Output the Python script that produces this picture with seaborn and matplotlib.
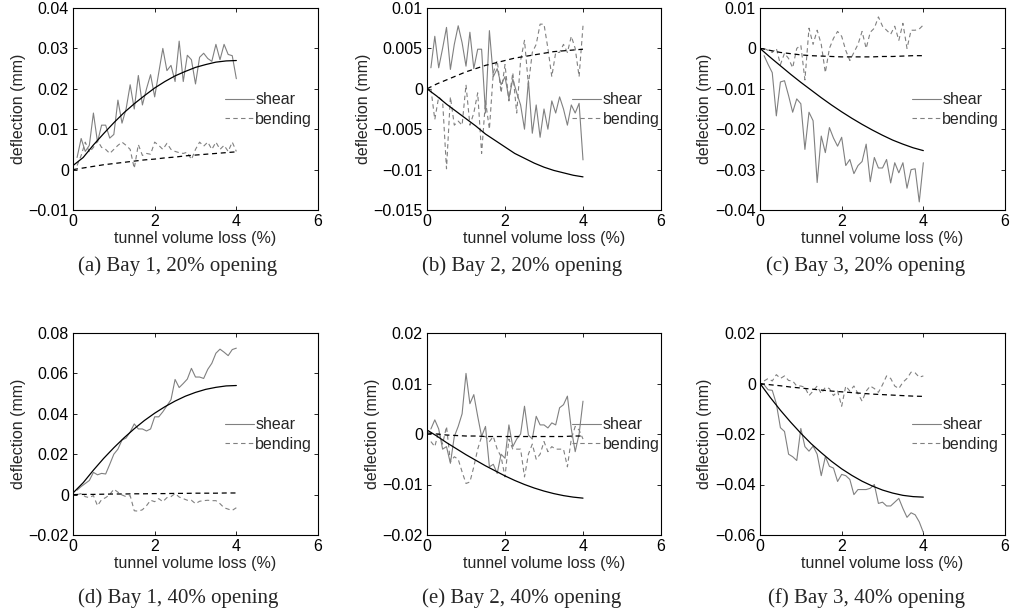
import matplotlib
matplotlib.use("Agg")
import matplotlib.pyplot as plt
import pandas as pd
import seaborn as sns
from matplotlib.ticker import FuncFormatter, MultipleLocator

# measured points: tunnel volume loss (%)
loss = [0.1, 0.2, 0.3, 0.4, 0.5, 0.6, 0.7, 0.8, 0.9, 1.0,
        1.1, 1.2, 1.3, 1.4, 1.5, 1.6, 1.7, 1.8, 1.9, 2.0,
        2.1, 2.2, 2.3, 2.4, 2.5, 2.6, 2.7, 2.8, 2.9, 3.0,
        3.1, 3.2, 3.3, 3.4, 3.5, 3.6, 3.7, 3.8, 3.9, 4.0]
# fitted curves are read at these positions
fit_loss = [0.0, 0.25, 0.5, 0.75, 1.0, 1.25, 1.5, 1.75, 2.0,
            2.25, 2.5, 2.75, 3.0, 3.25, 3.5, 3.75, 4.0]

# (a) Bay 1, 20% opening
shear_a = [0.0030, 0.0077, 0.0045, 0.0060, 0.0140, 0.0068, 0.0110, 0.0110, 0.0078, 0.0087,
           0.0172, 0.0115, 0.0150, 0.0210, 0.0150, 0.0233, 0.0160, 0.0200, 0.0235, 0.0180,
           0.0240, 0.0300, 0.0245, 0.0258, 0.0218, 0.0318, 0.0218, 0.0283, 0.0272, 0.0212,
           0.0278, 0.0288, 0.0275, 0.0268, 0.0310, 0.0272, 0.0310, 0.0285, 0.0282, 0.0225]
bend_a = [0.0010, 0.0035, 0.0068, 0.0043, 0.0055, 0.0072, 0.0055, 0.0050, 0.0040, 0.0050,
          0.0060, 0.0068, 0.0060, 0.0050, 0.0003, 0.0062, 0.0035, 0.0040, 0.0038, 0.0068,
          0.0060, 0.0050, 0.0065, 0.0050, 0.0045, 0.0042, 0.0040, 0.0043, 0.0025, 0.0050,
          0.0068, 0.0058, 0.0068, 0.0050, 0.0068, 0.0050, 0.0060, 0.0045, 0.0068, 0.0045]
shear_fit_a = [0.0010, 0.0030, 0.0061, 0.0089, 0.0116, 0.0141, 0.0163, 0.0183, 0.0202,
               0.0218, 0.0232, 0.0243, 0.0253, 0.0260, 0.0266, 0.0269, 0.0270]
bend_fit_a = [0.0, 0.0004, 0.0008, 0.0012, 0.0015, 0.0018, 0.0021, 0.0024, 0.0026,
              0.0029, 0.0031, 0.0034, 0.0036, 0.0038, 0.0040, 0.0042, 0.0044]

# (b) Bay 2, 20% opening
shear_b = [0.0026, 0.0065, 0.0026, 0.0050, 0.0076, 0.0024, 0.0055, 0.0078, 0.0057, 0.0028,
           0.0070, 0.0025, 0.0049, 0.0049, -0.0030, 0.0072, 0.0015, 0.0025, 0.0005, 0.0015,
           -0.0012, 0.0012, -0.0005, -0.0020, -0.0050, 0.0010, -0.0055, -0.0020, -0.0060, -0.0025,
           -0.0050, -0.0015, -0.0030, -0.0010, -0.0025, -0.0045, -0.0020, -0.0030, -0.0018, -0.0088]
bend_b = [0.0000, -0.0038, -0.0010, -0.0015, -0.0099, -0.0010, -0.0045, -0.0040, -0.0045, 0.0005,
          -0.0045, -0.0030, -0.0005, -0.0080, -0.0015, -0.0050, 0.0020, 0.0035, -0.0005, 0.0030,
          -0.0015, 0.0020, -0.0030, 0.0035, 0.0060, 0.0005, 0.0045, 0.0055, 0.0080, 0.0080,
          0.0050, 0.0015, 0.0045, 0.0045, 0.0055, 0.0045, 0.0065, 0.0050, 0.0015, 0.0078]
shear_fit_b = [0.0, -0.0009, -0.0019, -0.0028, -0.0037, -0.0046, -0.0056, -0.0064, -0.0072,
               -0.0080, -0.0086, -0.0092, -0.0097, -0.0101, -0.0104, -0.0107, -0.0109]
bend_fit_b = [0.0, 0.0006, 0.0011, 0.0016, 0.0021, 0.0025, 0.0029, 0.0032, 0.0035,
              0.0038, 0.0040, 0.0042, 0.0044, 0.0046, 0.0047, 0.0048, 0.0049]

# (c) Bay 3, 20% opening
shear_c = [-0.0018, -0.0040, -0.0060, -0.0167, -0.0083, -0.0080, -0.0117, -0.0158, -0.0125, -0.0137,
           -0.0250, -0.0158, -0.0179, -0.0332, -0.0217, -0.0258, -0.0196, -0.0222, -0.0242, -0.0220,
           -0.0290, -0.0275, -0.0310, -0.0290, -0.0280, -0.0237, -0.0330, -0.0270, -0.0296, -0.0296,
           -0.0275, -0.0333, -0.0283, -0.0308, -0.0283, -0.0346, -0.0300, -0.0298, -0.0380, -0.0283]
bend_c = [0.0000, -0.0005, -0.0010, 0.0000, -0.0040, -0.0012, -0.0025, -0.0048, 0.0000, 0.0008,
          -0.0078, 0.0050, 0.0010, 0.0045, 0.0010, -0.0060, 0.0000, 0.0025, 0.0042, 0.0030,
          -0.0005, -0.0030, -0.0010, 0.0010, 0.0042, 0.0000, 0.0040, 0.0050, 0.0078, 0.0055,
          0.0045, 0.0035, 0.0055, 0.0020, 0.0062, 0.0000, 0.0045, 0.0045, 0.0048, 0.0058]
shear_fit_c = [0.0, -0.0022, -0.0043, -0.0064, -0.0084, -0.0103, -0.0122, -0.0140, -0.0157,
               -0.0173, -0.0188, -0.0202, -0.0215, -0.0227, -0.0237, -0.0246, -0.0253]
bend_fit_c = [0.0, -0.0005, -0.0010, -0.0013, -0.0016, -0.0018, -0.0019, -0.0020, -0.0021,
              -0.0021, -0.0021, -0.0021, -0.0020, -0.0020, -0.0019, -0.0018, -0.0018]

# (d) Bay 1, 40% opening
shear_d = [0.0022, 0.0040, 0.0055, 0.0070, 0.0110, 0.0098, 0.0105, 0.0102, 0.0150, 0.0200,
           0.0225, 0.0270, 0.0280, 0.0310, 0.0350, 0.0325, 0.0325, 0.0315, 0.0325, 0.0385,
           0.0385, 0.0410, 0.0440, 0.0470, 0.0570, 0.0530, 0.0550, 0.0572, 0.0625, 0.0582,
           0.0582, 0.0575, 0.0620, 0.0650, 0.0700, 0.0720, 0.0705, 0.0688, 0.0718, 0.0725]
bend_d = [0.0000, 0.0005, -0.0010, -0.0015, -0.0005, -0.0055, -0.0025, -0.0015, 0.0000, 0.0027,
          0.0012, -0.0002, -0.0010, -0.0005, -0.0080, -0.0082, -0.0075, -0.0055, -0.0028, -0.0035,
          -0.0020, -0.0035, -0.0015, -0.0010, 0.0005, -0.0012, -0.0020, -0.0028, -0.0028, -0.0045,
          -0.0033, -0.0030, -0.0028, -0.0030, -0.0030, -0.0045, -0.0065, -0.0072, -0.0078, -0.0065]
shear_fit_d = [0.0008, 0.0059, 0.0121, 0.0179, 0.0232, 0.0281, 0.0326, 0.0367, 0.0403,
               0.0435, 0.0463, 0.0487, 0.0506, 0.0521, 0.0531, 0.0538, 0.0540]
bend_fit_d = [0.0, 0.0001, 0.0001, 0.0002, 0.0003, 0.0003, 0.0004, 0.0004, 0.0005,
              0.0005, 0.0006, 0.0006, 0.0007, 0.0007, 0.0007, 0.0008, 0.0008]

# (e) Bay 2, 40% opening
shear_e = [0.0010, 0.0028, 0.0010, -0.0030, -0.0025, -0.0058, -0.0005, 0.0015, 0.0040, 0.0120,
           0.0060, 0.0078, 0.0035, -0.0005, 0.0015, -0.0065, -0.0060, -0.0078, -0.0040, -0.0048,
           0.0018, -0.0025, -0.0010, 0.0000, 0.0055, -0.0002, -0.0010, 0.0035, 0.0018, 0.0018,
           0.0012, 0.0022, 0.0018, 0.0052, 0.0058, 0.0075, 0.0010, -0.0035, 0.0000, 0.0065]
bend_e = [-0.0015, -0.0025, 0.0005, -0.0020, 0.0015, -0.0055, -0.0045, -0.0050, -0.0075, -0.0098,
          -0.0095, -0.0065, -0.0030, -0.0005, -0.0005, -0.0015, -0.0005, -0.0030, -0.0045, -0.0085,
          -0.0010, -0.0030, -0.0030, -0.0030, -0.0085, -0.0040, -0.0020, -0.0050, -0.0040, -0.0015,
          -0.0035, -0.0025, -0.0030, -0.0030, -0.0030, -0.0065, -0.0010, 0.0015, 0.0008, -0.0010]
shear_fit_e = [0.0008, -0.0004, -0.0017, -0.0029, -0.0041, -0.0052, -0.0063, -0.0073, -0.0083,
               -0.0092, -0.0100, -0.0107, -0.0113, -0.0118, -0.0122, -0.0125, -0.0127]
bend_fit_e = [0.0002, 0.0000, -0.0002, -0.0003, -0.0004, -0.0004, -0.0005, -0.0005, -0.0005,
              -0.0005, -0.0005, -0.0005, -0.0005, -0.0005, -0.0005, -0.0004, -0.0004]

# (f) Bay 3, 40% opening
shear_f = [-0.0005, -0.0025, -0.0027, -0.0080, -0.0175, -0.0190, -0.0280, -0.0290, -0.0305, -0.0178,
           -0.0250, -0.0268, -0.0248, -0.0280, -0.0365, -0.0290, -0.0328, -0.0335, -0.0388, -0.0360,
           -0.0365, -0.0380, -0.0440, -0.0420, -0.0420, -0.0420, -0.0415, -0.0400, -0.0475, -0.0470,
           -0.0485, -0.0485, -0.0470, -0.0455, -0.0495, -0.0530, -0.0512, -0.0520, -0.0548, -0.0590]
bend_f = [0.0010, 0.0020, 0.0010, 0.0035, 0.0020, 0.0030, 0.0012, 0.0010, -0.0010, -0.0010,
          -0.0015, -0.0048, -0.0030, -0.0010, -0.0040, -0.0015, -0.0020, -0.0048, -0.0030, -0.0090,
          -0.0010, -0.0030, -0.0010, -0.0040, -0.0070, -0.0030, -0.0010, -0.0020, -0.0035, -0.0005,
          0.0030, 0.0020, -0.0010, -0.0020, 0.0005, 0.0020, 0.0045, 0.0042, 0.0025, 0.0030]
shear_fit_f = [0.0, -0.0055, -0.0106, -0.0153, -0.0197, -0.0238, -0.0274, -0.0308, -0.0338,
               -0.0364, -0.0387, -0.0406, -0.0422, -0.0434, -0.0443, -0.0448, -0.0450]
bend_fit_f = [0.0, -0.0005, -0.0009, -0.0014, -0.0018, -0.0022, -0.0026, -0.0030, -0.0033,
              -0.0036, -0.0039, -0.0042, -0.0044, -0.0046, -0.0048, -0.0050, -0.0051]

captions = ["(a) Bay 1, 20% opening", "(b) Bay 2, 20% opening", "(c) Bay 3, 20% opening",
            "(d) Bay 1, 40% opening", "(e) Bay 2, 40% opening", "(f) Bay 3, 40% opening"]
y_limits = [(-0.01, 0.04), (-0.015, 0.01), (-0.04, 0.01),
            (-0.02, 0.08), (-0.02, 0.02), (-0.06, 0.02)]
y_steps = [0.01, 0.005, 0.01, 0.02, 0.01, 0.02]

panels = [
    (shear_a, bend_a, shear_fit_a, bend_fit_a),
    (shear_b, bend_b, shear_fit_b, bend_fit_b),
    (shear_c, bend_c, shear_fit_c, bend_fit_c),
    (shear_d, bend_d, shear_fit_d, bend_fit_d),
    (shear_e, bend_e, shear_fit_e, bend_fit_e),
    (shear_f, bend_f, shear_fit_f, bend_fit_f),
]

# ---- style ----
sns.set_style("ticks")
plt.rcParams["font.family"] = ["Liberation Sans", "DejaVu Sans"]
plt.rcParams["font.size"] = 11.5
plt.rcParams["axes.unicode_minus"] = True

GREY = "#808080"
DASH = (0, (4, 3))
FS = 11.5

# axes boxes in pixels: left, width (figure is 1011 x 611)
W, H = 1011, 611
col_px = [(73, 245), (427, 234), (760, 245)]
row_top = [8, 333]
ax_h = 202
caption_x = [178, 522, 866]
caption_y = [266, 598]


def fmt(v, _pos):
    s = "{:g}".format(round(v, 4))
    return s.replace("-", "\u2212")


fig = plt.figure(figsize=(W / 100, H / 100), dpi=100)

for i, (shear, bend, shear_fit, bend_fit) in enumerate(panels):
    r, c = divmod(i, 3)
    left, width = col_px[c]
    top = row_top[r]
    ax = fig.add_axes([left / W, 1 - (top + ax_h) / H, width / W, ax_h / H])

    meas = pd.DataFrame({"loss": loss, "shear": shear, "bending": bend})
    fit = pd.DataFrame({"loss": fit_loss, "shear": shear_fit, "bending": bend_fit})

    # measured (grey) and fitted (black) deflections
    sns.lineplot(data=meas, x="loss", y="shear", ax=ax, color=GREY, lw=0.8,
                 label="shear", errorbar=None)
    sns.lineplot(data=meas, x="loss", y="bending", ax=ax, color=GREY, lw=0.8,
                 linestyle=DASH, label="bending", errorbar=None)
    sns.lineplot(data=fit, x="loss", y="shear", ax=ax, color="black", lw=0.9,
                 errorbar=None)
    sns.lineplot(data=fit, x="loss", y="bending", ax=ax, color="black", lw=0.9,
                 linestyle=DASH, errorbar=None)

    ax.set_xlim(0, 6)
    ax.set_ylim(*y_limits[i])
    ax.xaxis.set_major_locator(MultipleLocator(2))
    ax.yaxis.set_major_locator(MultipleLocator(y_steps[i]))
    ax.yaxis.set_major_formatter(FuncFormatter(fmt))
    ax.tick_params(direction="in", length=3, width=0.6, top=True, right=True,
                   labelsize=FS, pad=3, colors="black")
    for sp in ax.spines.values():
        sp.set_visible(True)
        sp.set_linewidth(0.8)
        sp.set_color("black")

    ax.set_xlabel("tunnel volume loss (%)", fontsize=FS, labelpad=1)
    ax.set_ylabel("deflection (mm)", fontsize=FS, labelpad=2)

    ax.legend(loc="center left", bbox_to_anchor=(0.62, 0.497), frameon=False,
              handlelength=1.8, handletextpad=0.1, labelspacing=0.3,
              borderpad=0, borderaxespad=0, fontsize=FS)

    fig.text(caption_x[c] / W, 1 - caption_y[r] / H, captions[i],
             ha="center", va="center", fontsize=15,
             family=["Liberation Serif", "DejaVu Serif"])

fig.savefig("out.png", dpi=100)
